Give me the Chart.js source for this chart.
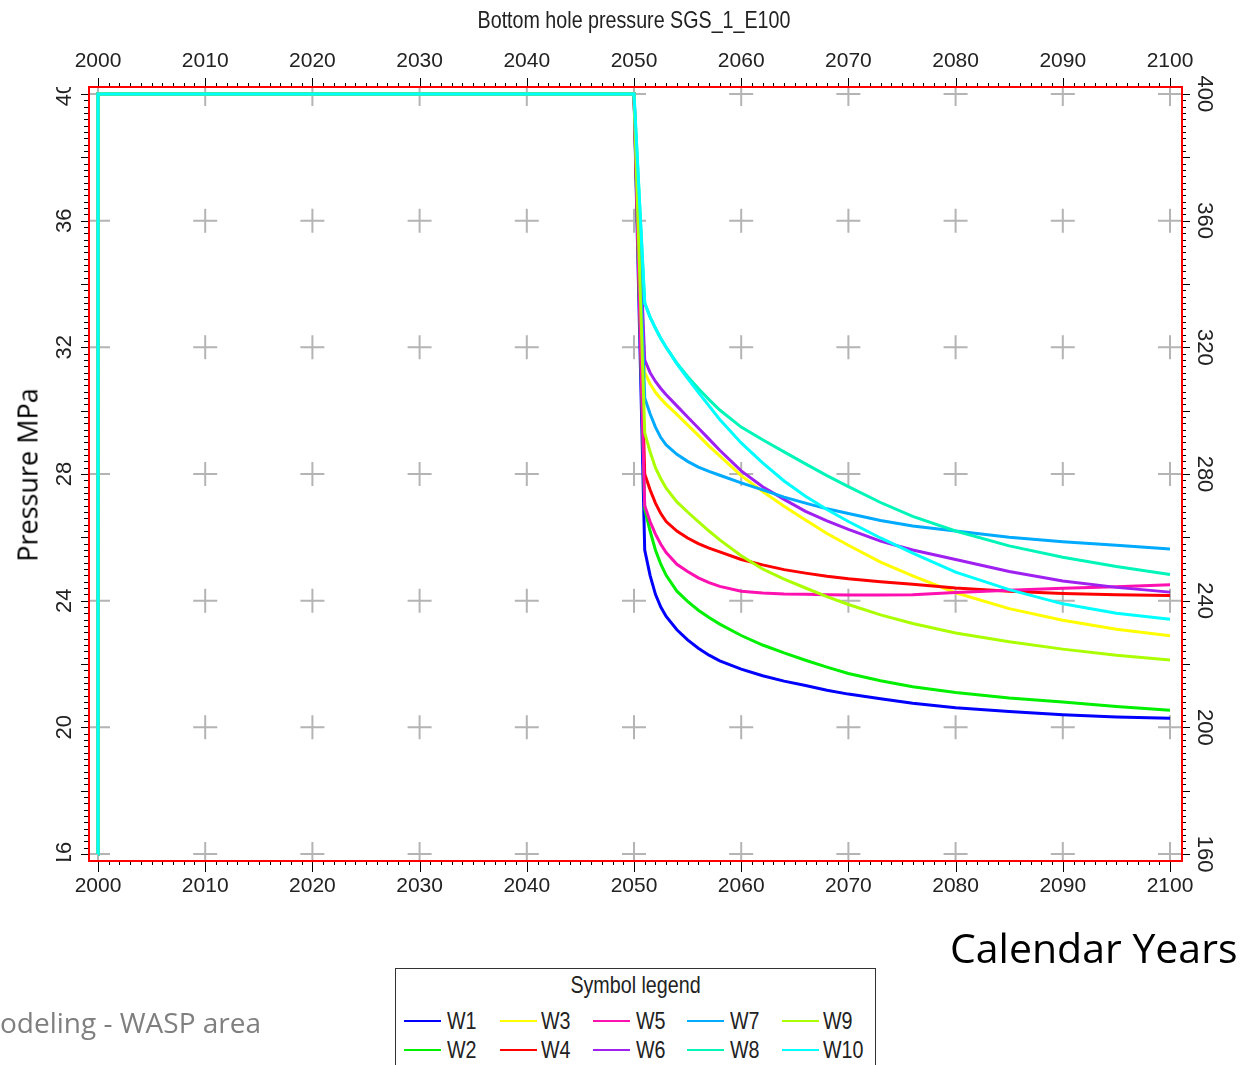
<!DOCTYPE html>
<html>
<head>
<meta charset="utf-8">
<script src="https://cdn.jsdelivr.net/npm/chart.js@4.4.1/dist/chart.umd.min.js"></script>
<style>
  body { margin: 0; background: #fff; width: 1243px; height: 1065px; overflow: hidden; position: relative;
         font-family: "Liberation Sans", Arial, sans-serif; color: #222; }
  #c { position: absolute; left: 0; top: 0; }
  .t { position: absolute; white-space: nowrap; }
  #title { left: 334px; width: 600px; top: 6px; text-align: center; font-size: 24px; line-height: 28px;
           transform: scaleX(0.82); transform-origin: 50% 50%; }
  #ylab { left: 27px; top: 475px; transform: translate(-50%, -50%) rotate(-90deg);
          font-family: "Open Sans", sans-serif; font-size: 27px; color: #000; }
  #xlab { left: 950px; top: 922px; font-family: "Open Sans", sans-serif; font-size: 41px; line-height: 50px; color: #000; }
  #foot { left: 0; top: 1004px; font-family: "Open Sans", sans-serif; font-size: 28px; line-height: 36px; color: #7f7f7f; }
  #legend { position: absolute; left: 395px; top: 968px; width: 481px; height: 130px; box-sizing: border-box;
            border: 1.5px solid #333; background: #fff; }
  #legend .head { position: absolute; left: 0; width: 100%; top: 2px; text-align: center; font-size: 24px; line-height: 28px;
                  transform: scaleX(0.82); transform-origin: 50% 50%; }
  #legend .sw { position: absolute; height: 2px; width: 37px; }
  #legend .lb { position: absolute; font-size: 24px; line-height: 28px; transform: scaleX(0.82); transform-origin: 0 50%; }
</style>
</head>
<body>
<canvas id="c" width="1243" height="1065"></canvas>
<div class="t" id="title">Bottom hole pressure SGS_1_E100</div>
<div class="t" id="ylab">Pressure MPa</div>
<div class="t" id="xlab">Calendar Years</div>
<div class="t" id="foot">odeling - WASP area</div>
<div id="legend"><div class="head">Symbol legend</div></div>
<script>
// time axis (calendar years) shared by all wells
var years = [2000, 2000.001, 2050, 2051, 2051.5, 2052, 2052.5, 2053, 2054, 2055, 2056, 2057, 2058,
             2060, 2062, 2064, 2066, 2068, 2070, 2073, 2076, 2080, 2085, 2090, 2095, 2100];

// bottom hole pressure, MPa
var W1  = [16, 40, 40, 25.6, 24.8, 24.2, 23.8, 23.5, 23.08, 22.76, 22.5, 22.28, 22.1,
           21.84, 21.63, 21.46, 21.32, 21.17, 21.05, 20.9, 20.76, 20.62, 20.5, 20.4, 20.33, 20.29];
var W2  = [16, 40, 40, 26.9, 26.2, 25.6, 25.15, 24.8, 24.3, 23.98, 23.7, 23.47, 23.26,
           22.9, 22.6, 22.35, 22.12, 21.9, 21.7, 21.47, 21.28, 21.1, 20.93, 20.8, 20.66, 20.54];
var W3  = [16, 40, 40, 31.2, 30.85, 30.58, 30.38, 30.2, 29.88, 29.55, 29.22, 28.88, 28.57,
           27.95, 27.45, 26.98, 26.55, 26.12, 25.75, 25.22, 24.78, 24.25, 23.75, 23.38, 23.1, 22.89];
var W4  = [16, 40, 40, 28.0, 27.5, 27.08, 26.75, 26.5, 26.2, 25.98, 25.8, 25.66, 25.54,
           25.3, 25.13, 24.98, 24.87, 24.77, 24.69, 24.6, 24.52, 24.4, 24.3, 24.23, 24.19, 24.16];
var W5  = [16, 40, 40, 27.0, 26.5, 26.1, 25.78, 25.52, 25.15, 24.92, 24.72, 24.57, 24.45,
           24.3, 24.24, 24.21, 24.2, 24.19, 24.18, 24.18, 24.19, 24.26, 24.33, 24.39, 24.44, 24.5];
var W6  = [16, 40, 40, 31.6, 31.2, 30.92, 30.7, 30.5, 30.15, 29.8, 29.45, 29.1, 28.75,
           28.1, 27.6, 27.2, 26.82, 26.52, 26.25, 25.88, 25.6, 25.3, 24.92, 24.62, 24.42, 24.27];
var W7  = [16, 40, 40, 30.4, 29.9, 29.48, 29.15, 28.92, 28.62, 28.4, 28.22, 28.08, 27.96,
           27.72, 27.5, 27.27, 27.08, 26.9, 26.75, 26.53, 26.36, 26.2, 26.0, 25.86, 25.75, 25.63];
var W8  = [16, 40, 40, 33.4, 32.95, 32.6, 32.28, 32.0, 31.5, 31.08, 30.7, 30.35, 30.02,
           29.48, 29.08, 28.7, 28.32, 27.95, 27.6, 27.1, 26.66, 26.2, 25.73, 25.37, 25.08, 24.83];
var W9  = [16, 40, 40, 29.3, 28.7, 28.2, 27.85, 27.55, 27.12, 26.8, 26.5, 26.2, 25.92,
           25.42, 25.0, 24.68, 24.4, 24.13, 23.88, 23.55, 23.28, 22.98, 22.7, 22.47, 22.28, 22.13];
var W10 = [16, 40, 40, 33.4, 32.95, 32.6, 32.28, 32.0, 31.48, 31.02, 30.58, 30.15, 29.72,
           28.98, 28.35, 27.78, 27.3, 26.88, 26.5, 25.98, 25.5, 24.9, 24.35, 23.9, 23.6, 23.41];

var names  = ["W1", "W2", "W3", "W4", "W5", "W6", "W7", "W8", "W9", "W10"];
var series = [W1, W2, W3, W4, W5, W6, W7, W8, W9, W10];
var colors = ["#0000ff", "#00f000", "#ffff00", "#ff0000", "#ff10b0",
              "#a020f0", "#00aaff", "#00f5b8", "#aaff00", "#00ffff"];

// tick labels
var xTicks = [2000, 2010, 2020, 2030, 2040, 2050, 2060, 2070, 2080, 2090, 2100];
var yTicks = [16, 20, 24, 28, 32, 36, 40];
var y2Ticks = [160, 200, 240, 280, 320, 360, 400];

var datasets = series.map(function (vals, i) {
  return {
    label: names[i],
    data: vals.map(function (v, k) { return { x: years[k], y: v }; }),
    borderColor: colors[i],
    backgroundColor: colors[i],
    borderWidth: 3,
    pointRadius: 0,
    fill: false,
    tension: 0,
    order: 10 - i
  };
});

var xAxis = function (pos, h) {
  return {
    type: "linear",
    position: pos,
    min: 1999.16,
    max: 2101.12,
    grid: { display: false, drawTicks: false },
    border: { display: false },
    afterBuildTicks: function (s) { s.ticks = xTicks.map(function (v) { return { value: v }; }); },
    afterFit: function (s) { s.height = h; },
    ticks: {
      autoSkip: false, maxRotation: 0, padding: 13, color: "#222",
      font: { family: '"Liberation Sans", Arial, sans-serif', size: 21 },
      callback: function (v) { return String(v); }
    }
  };
};

var gridPlugin = {
  id: "gridFrame",
  beforeDatasetsDraw: function (chart) {
    var ctx = chart.ctx, a = chart.chartArea, xs = chart.scales.x, ys = chart.scales.y;
    ctx.save();
    ctx.beginPath();
    ctx.rect(a.left, a.top, a.right - a.left, a.bottom - a.top);
    ctx.clip();
    ctx.strokeStyle = "#b4b4b4";
    ctx.lineWidth = 2;
    xTicks.forEach(function (yr) {
      yTicks.forEach(function (p) {
        var px = xs.getPixelForValue(yr), py = ys.getPixelForValue(p);
        ctx.beginPath();
        ctx.moveTo(px - 12, py); ctx.lineTo(px + 12, py);
        ctx.moveTo(px, py - 12); ctx.lineTo(px, py + 12);
        ctx.stroke();
      });
    });
    ctx.restore();
  },
  afterDatasetsDraw: function (chart) {
    var ctx = chart.ctx, a = chart.chartArea, xs = chart.scales.x, ys = chart.scales.y, y2 = chart.scales.y2;
    var i, px, py, len;
    ctx.save();
    // small ticks outside the frame
    ctx.strokeStyle = "#000";
    ctx.lineWidth = 1;
    ctx.beginPath();
    for (i = 2000; i <= 2100; i++) {
      px = Math.round(xs.getPixelForValue(i)) + 0.5;
      len = i % 10 === 0 ? 9 : 4;
      ctx.moveTo(px, a.top); ctx.lineTo(px, a.top - len);
      ctx.moveTo(px, a.bottom); ctx.lineTo(px, a.bottom + (i % 10 === 0 ? 11 : 4));
    }
    for (i = 0; i <= 120; i++) {
      py = Math.round(ys.getPixelForValue(16 + i * 0.2)) + 0.5;
      len = i % 10 === 0 ? 8 : 5;
      ctx.moveTo(a.left, py); ctx.lineTo(a.left - len, py);
      py = Math.round(y2.getPixelForValue(160 + i * 2)) + 0.5;
      ctx.moveTo(a.right, py); ctx.lineTo(a.right + (i % 10 === 0 ? 8 : 4), py);
    }
    ctx.stroke();
    // red frame
    ctx.strokeStyle = "#ff0000";
    ctx.lineWidth = 2;
    ctx.strokeRect(a.left, a.top, a.right - a.left, a.bottom - a.top);
    ctx.restore();
  },
  afterDraw: function (chart) {
    var ctx = chart.ctx, a = chart.chartArea, ys = chart.scales.y, y2 = chart.scales.y2;
    ctx.save();
    ctx.fillStyle = "#222";
    ctx.font = '22px "Liberation Sans", Arial, sans-serif';
    ctx.textAlign = "center";
    ctx.textBaseline = "middle";
    ctx.save();
    ctx.beginPath();
    ctx.rect(0, a.top, a.left, a.bottom - a.top);
    ctx.clip();
    yTicks.forEach(function (p) {
      ctx.save();
      ctx.translate(65, ys.getPixelForValue(p));
      ctx.rotate(-Math.PI / 2);
      ctx.fillText(String(p), 0, 0);
      ctx.restore();
    });
    ctx.restore();
    y2Ticks.forEach(function (p) {
      ctx.save();
      ctx.translate(1204, y2.getPixelForValue(p));
      ctx.rotate(Math.PI / 2);
      ctx.fillText(String(p), 0, 0);
      ctx.restore();
    });
    ctx.restore();
  }
};

new Chart(document.getElementById("c"), {
  type: "line",
  data: { datasets: datasets },
  plugins: [gridPlugin],
  options: {
    responsive: false,
    animation: false,
    devicePixelRatio: 1,
    layout: { padding: 0 },
    plugins: { legend: { display: false }, tooltip: { enabled: false }, title: { display: false } },
    scales: {
      x: xAxis("bottom", 204),
      x2: xAxis("top", 87),
      y: {
        type: "linear", position: "left", min: 15.78, max: 40.22,
        grid: { display: false, drawTicks: false }, border: { display: false },
        ticks: { display: false },
        afterFit: function (s) { s.width = 89; }
      },
      y2: {
        type: "linear", position: "right", min: 157.8, max: 402.2,
        grid: { display: false, drawTicks: false }, border: { display: false },
        ticks: { display: false },
        afterFit: function (s) { s.width = 61; }
      }
    }
  }
});

// legend box
var leg = document.getElementById("legend");
var colLine = [8, 104, 197, 291, 386];
var colText = [51, 145, 240, 334, 427];
var rowY = [52, 81];
names.forEach(function (n, i) {
  var col = Math.floor(i / 2), row = i % 2;
  var sw = document.createElement("div");
  sw.className = "sw";
  sw.style.left = colLine[col] + "px";
  sw.style.top = (rowY[row] - 1) + "px";
  sw.style.background = colors[i];
  leg.appendChild(sw);
  var lb = document.createElement("div");
  lb.className = "lb";
  lb.style.left = colText[col] + "px";
  lb.style.top = (rowY[row] - 14) + "px";
  lb.textContent = n;
  leg.appendChild(lb);
});
</script>
</body>
</html>
